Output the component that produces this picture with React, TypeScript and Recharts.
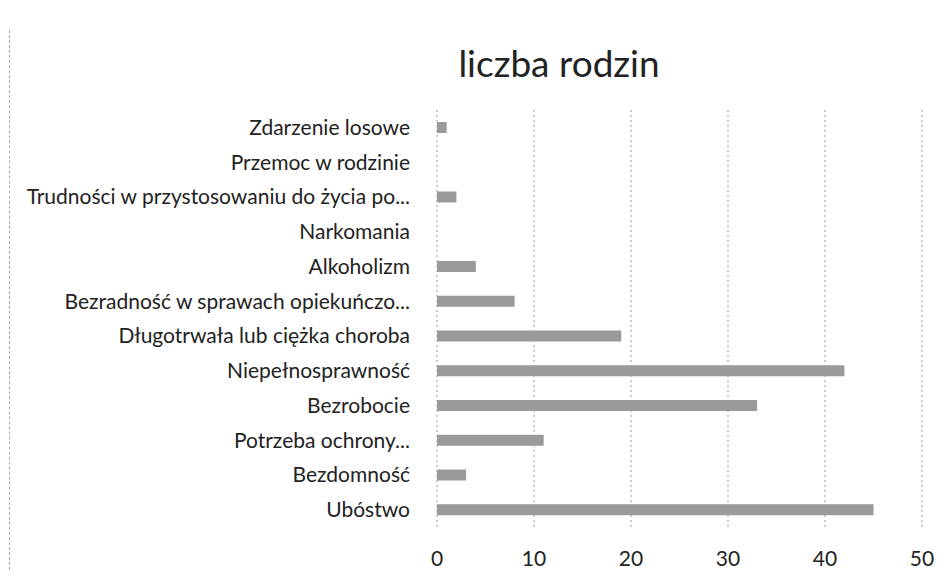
import React from 'react'
import { Bar, BarChart, CartesianGrid, XAxis, YAxis } from 'recharts'

const categories = [
  'Zdarzenie losowe',
  'Przemoc w rodzinie',
  'Trudności w przystosowaniu do życia po...',
  'Narkomania',
  'Alkoholizm',
  'Bezradność w sprawach opiekuńczo...',
  'Długotrwała lub ciężka choroba',
  'Niepełnosprawność',
  'Bezrobocie',
  'Potrzeba ochrony...',
  'Bezdomność',
  'Ubóstwo',
]
const families = [1, 0, 2, 0, 4, 8, 19, 42, 33, 11, 3, 45]
const xTicks = [0, 10, 20, 30, 40, 50]

const data = categories.map((name, i) => ({ name, value: families[i] }))

const font = 'Lato, sans-serif'

export default function App() {
  return (
    <div style={{ position: 'absolute', left: 0, top: 0, width: 939, height: 570, background: '#fff' }}>
      <div
        style={{
          position: 'absolute',
          left: 0,
          width: 1118,
          top: 41,
          textAlign: 'center',
          fontFamily: font,
          fontSize: 37,
          lineHeight: '44px',
          color: '#222',
        }}
      >
        liczba rodzin
      </div>
      <div
        style={{
          position: 'absolute',
          left: 9,
          top: 30,
          height: 540,
          borderLeft: '1px dashed #aaa',
        }}
      />
      <BarChart
        width={939}
        height={570}
        data={data}
        layout="vertical"
        margin={{ top: 110, right: 17, left: 0, bottom: 0 }}
        barSize={11}
      >
        <CartesianGrid horizontal={false} stroke="#999" strokeDasharray="2 3" />
        <XAxis
          type="number"
          domain={[0, 50]}
          ticks={xTicks}
          axisLine={false}
          tickLine={false}
          height={43}
          tickMargin={18}
          tick={{ fontSize: 21, fill: '#222', fontFamily: font }}
        />
        <YAxis
          type="category"
          dataKey="name"
          width={437}
          axisLine={false}
          tickLine={false}
          interval={0}
          tickMargin={21}
          tick={{ fontSize: 21, fill: '#222', fontFamily: font }}
        />
        <Bar dataKey="value" fill="#9a9a9a" isAnimationActive={false} />
      </BarChart>
    </div>
  )
}
